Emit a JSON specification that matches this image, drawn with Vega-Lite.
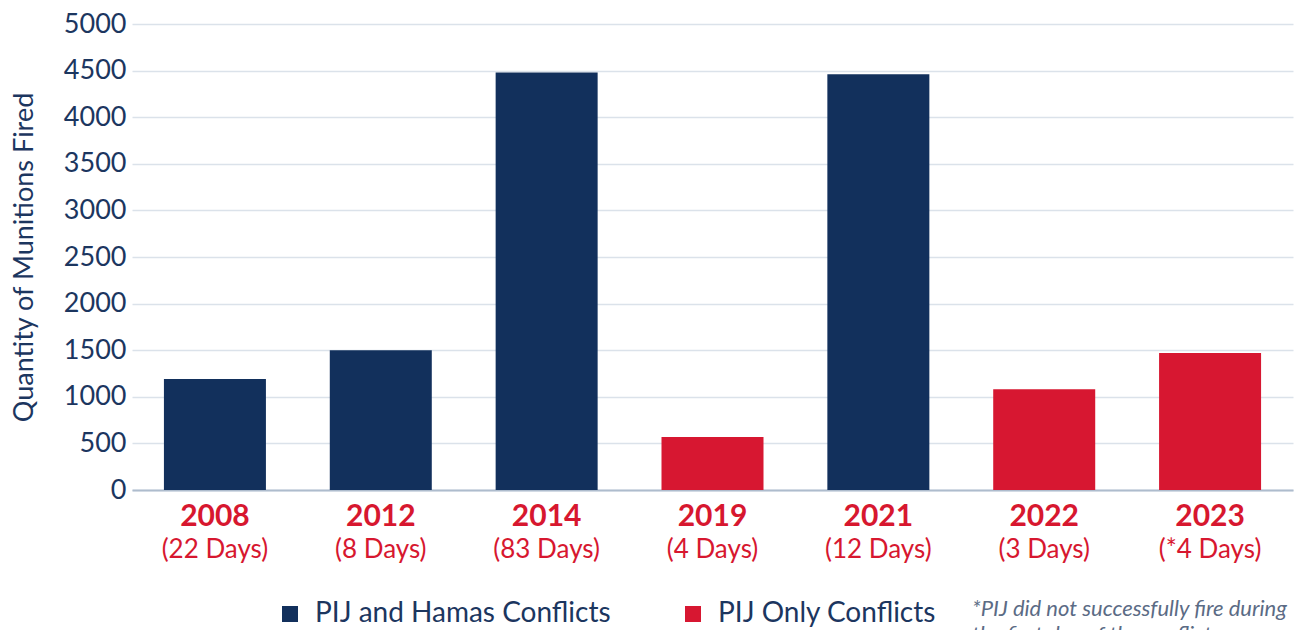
{
  "$schema": "https://vega.github.io/schema/vega-lite/v6.json",
  "width": 1161,
  "height": 466,
  "autosize": {"type": "none"},
  "padding": {"left": 132, "top": 24, "right": 14, "bottom": 140},
  "background": "white",
  "config": {"font": "Lato", "view": {"stroke": null}},
  "title": {
    "text": ["*PIJ did not successfully fire during", "the first day of the conflict."],
    "orient": "bottom",
    "anchor": "start",
    "frame": "group",
    "align": "left",
    "dx": 840,
    "offset": -29,
    "fontSize": 22,
    "fontStyle": "italic",
    "fontWeight": "normal",
    "color": "#5b6b85",
    "lineHeight": 26
  },
  "data": {
    "values": [
      {"label": "2008|(22 Days)", "value": 1190, "type": "PIJ and Hamas Conflicts"},
      {"label": "2012|(8 Days)", "value": 1500, "type": "PIJ and Hamas Conflicts"},
      {"label": "2014|(83 Days)", "value": 4480, "type": "PIJ and Hamas Conflicts"},
      {"label": "2019|(4 Days)", "value": 570, "type": "PIJ Only Conflicts"},
      {"label": "2021|(12 Days)", "value": 4460, "type": "PIJ and Hamas Conflicts"},
      {"label": "2022|(3 Days)", "value": 1080, "type": "PIJ Only Conflicts"},
      {"label": "2023|(*4 Days)", "value": 1470, "type": "PIJ Only Conflicts"}
    ]
  },
  "layer": [
    {
      "mark": {"type": "bar"},
      "encoding": {
        "x": {
          "field": "label",
          "type": "nominal",
          "sort": null,
          "scale": {"paddingInner": 0.385, "paddingOuter": 0.1925},
          "axis": {
            "orient": "bottom",
            "title": null,
            "labelExpr": "split(datum.value, '|')[0]",
            "labelAngle": 0,
            "labelFontSize": 30,
            "labelFontWeight": "bold",
            "labelColor": "#d7172f",
            "labelBaseline": "top",
            "labelPadding": 11,
            "ticks": false,
            "grid": false,
            "domainColor": "#aebccd",
            "domainWidth": 2
          }
        },
        "y": {
          "field": "value",
          "type": "quantitative",
          "scale": {"domain": [0, 5000]},
          "axis": {
            "title": "Quantity of Munitions Fired",
            "titleFontSize": 27,
            "titleFontWeight": "normal",
            "titleColor": "#1c365f",
            "titlePadding": 25,
            "format": "d",
            "values": [0, 500, 1000, 1500, 2000, 2500, 3000, 3500, 4000, 4500, 5000],
            "labelFontSize": 27,
            "labelColor": "#1c365f",
            "labelPadding": 6,
            "domain": false,
            "ticks": false,
            "gridColor": "#dbe2ea",
            "gridWidth": 1.5
          }
        },
        "color": {
          "field": "type",
          "type": "nominal",
          "scale": {
            "domain": ["PIJ and Hamas Conflicts", "PIJ Only Conflicts"],
            "range": ["#12305c", "#d71731"]
          },
          "legend": {
            "title": null,
            "orient": "none",
            "direction": "horizontal",
            "legendX": 144,
            "legendY": 576,
            "padding": 0,
            "symbolType": "square",
            "symbolSize": 256,
            "symbolStrokeWidth": 0,
            "symbolOpacity": 1,
            "labelFontSize": 28,
            "labelColor": "#1c365f",
            "labelOffset": 11,
            "columnPadding": 68,
            "labelLimit": 400
          }
        }
      }
    },
    {
      "mark": {"type": "bar", "opacity": 0},
      "encoding": {
        "x": {
          "field": "label",
          "type": "nominal",
          "sort": null,
          "axis": {
            "orient": "bottom",
            "title": null,
            "labelExpr": "split(datum.value, '|')[1]",
            "labelAngle": 0,
            "labelFontSize": 26,
            "labelFontWeight": "normal",
            "labelColor": "#d7172f",
            "labelBaseline": "top",
            "labelPadding": 46,
            "ticks": false,
            "grid": false,
            "domain": false
          }
        }
      }
    }
  ],
  "resolve": {"axis": {"x": "independent"}}
}
